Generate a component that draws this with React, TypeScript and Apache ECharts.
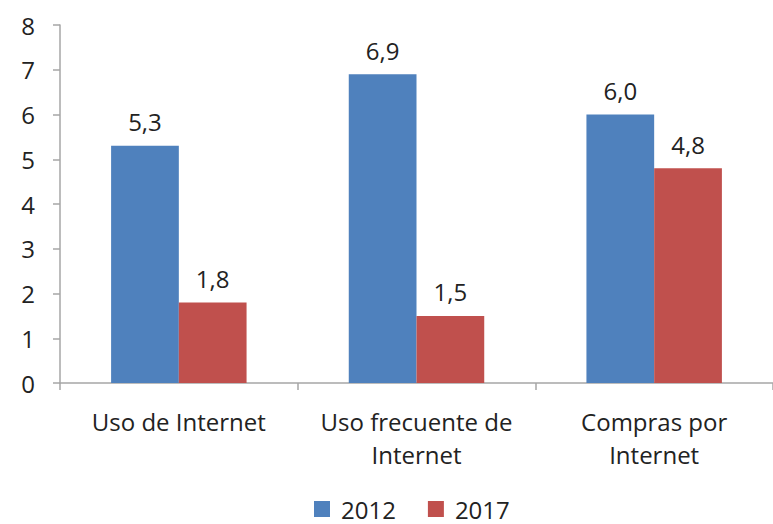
import React, { useEffect, useRef } from "react";
import * as echarts from "echarts";

const categories = ["Uso de Internet", "Uso frecuente de\nInternet", "Compras por\nInternet"];
const values2012 = [5.3, 6.9, 6.0];
const values2017 = [1.8, 1.5, 4.8];
const seriesNames = ["2012", "2017"];

const FONT = "'Open Sans', 'Noto Sans', sans-serif";

export default function App() {
  const ref = useRef<HTMLDivElement>(null);
  useEffect(() => {
    if (!ref.current) return;
    const chart = echarts.init(ref.current, null, { renderer: "svg" });
    const fmt = (p: any) => Number(p.value).toFixed(1).replace(".", ",");
    chart.setOption({
      animation: false,
      backgroundColor: "#ffffff",
      textStyle: { fontFamily: FONT },
      grid: { left: 60, top: 25, bottom: 141, width: 720, containLabel: false },
      legend: {
        top: 497,
        left: 314,
        padding: 0,
        itemWidth: 16,
        itemHeight: 16,
        itemGap: 32,
        icon: "rect",
        textStyle: { fontSize: 24, color: "#222", fontFamily: FONT, padding: [0, 0, 0, 6] },
        data: seriesNames,
      },
      xAxis: {
        type: "category",
        data: categories,
        axisLine: { show: true, lineStyle: { color: "#a6a6a6", width: 1.5 } },
        axisTick: { show: true, length: 7, lineStyle: { color: "#a6a6a6", width: 1.5 } },
        axisLabel: { fontSize: 24, color: "#222", margin: 22, lineHeight: 33, fontFamily: FONT, interval: 0 },
      },
      yAxis: {
        type: "value",
        min: 0,
        max: 8,
        interval: 1,
        splitLine: { show: false },
        axisLine: { show: true, lineStyle: { color: "#a6a6a6", width: 1.5 } },
        axisTick: { show: true, length: 7, lineStyle: { color: "#a6a6a6", width: 1.5 } },
        axisLabel: { fontSize: 24, color: "#222", margin: 25, fontFamily: FONT },
      },
      series: [
        {
          name: seriesNames[0],
          type: "bar",
          data: values2012,
          barGap: "0%",
          barCategoryGap: "43%",
          itemStyle: { color: "#4f81bd" },
          label: { show: true, position: "top", distance: 12, fontSize: 24, color: "#222", formatter: fmt, fontFamily: FONT },
        },
        {
          name: seriesNames[1],
          type: "bar",
          data: values2017,
          barGap: "0%",
          barCategoryGap: "43%",
          itemStyle: { color: "#c0504d" },
          label: { show: true, position: "top", distance: 12, fontSize: 24, color: "#222", formatter: fmt, fontFamily: FONT },
        },
      ],
    });
    return () => chart.dispose();
  }, []);
  return <div ref={ref} style={{ position: "fixed", left: 0, top: 0, width: 773, height: 524 }} />;
}
